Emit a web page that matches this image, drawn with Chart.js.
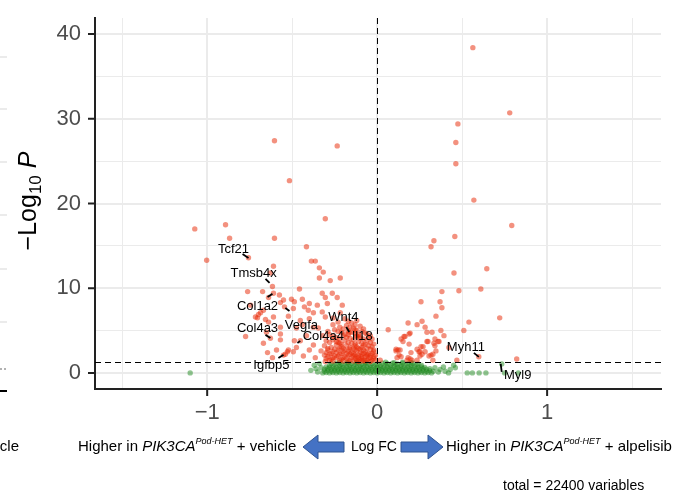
<!DOCTYPE html>
<html>
<head>
<meta charset="utf-8">
<script src="https://cdn.jsdelivr.net/npm/chart.js@4.4.1/dist/chart.umd.min.js"></script>
<style>
  html, body { margin: 0; padding: 0; background: #fff; }
</style>
</head>
<body>
<canvas id="volcano" width="687" height="495"></canvas>
<script>
// log fold change, -log10 p
const sigLeft = [
  [-0.604,27.4],[-0.235,26.8],[-0.516,22.7],[-1.073,17.0],[-0.892,17.5],[-0.868,15.9],[-0.604,15.9],
  [-0.305,18.2],[-1.003,13.3],[-0.757,13.6],[-0.416,14.9],[-0.387,13.2],[-0.364,13.2],[-0.340,12.4],
  [-0.317,11.9],[-0.610,12.6],[-0.628,11.8],[-0.340,11.2],[-0.276,10.9],[-0.217,11.2],[-0.616,10.2],
  [-0.457,9.9],[-0.762,9.6],[-0.674,9.6],[-0.575,9.2],[-0.639,8.9],[-0.610,9.4],[-0.504,8.7],
  [-0.440,8.7],[-0.323,9.4],[-0.264,9.4],[-0.305,8.9],[-0.235,8.9],[-0.551,8.6],[-0.569,8.3],
  [-0.487,8.4],[-0.399,8.2],[-0.352,8.0],[-0.293,8.2],[-0.205,8.0],[-0.745,8.0],[-0.428,7.8],
  [-0.405,7.4],[-0.375,7.1],[-0.323,7.2],[-0.305,6.6],[-0.493,7.6],[-0.669,7.4],[-0.698,6.9],
  [-0.704,6.5],[-0.657,6.3],[-0.639,6.0],[-0.610,6.6],[-0.258,6.5],[-0.217,7.1],[-0.399,6.4],
  [-0.440,5.7],[-0.569,5.4],[-0.651,4.8],[-0.669,3.5],[-0.569,4.6],[-0.375,5.4],[-0.346,5.3],
  [-0.487,3.8],[-0.522,2.7],[-0.540,2.2],[-0.592,2.7],[-0.645,2.4],[-0.616,1.8],[-0.399,2.7],
  [-0.493,2.5],[-0.305,1.35],[-0.774,4.3],[-0.628,4.1],[-0.569,3.9],[-0.545,7.8],[-0.452,3.8],
  [-0.164,4.8],[-0.551,2.1],[-0.716,6.6],[-0.686,7.1],[-0.528,2.5],[-0.475,3.0],[-0.434,2.0],
  [-0.375,3.3],[-0.364,1.8],[-0.416,4.4],[-0.452,6.2],[-0.522,6.7],[-0.475,5.3],[-0.120,4.4],
  [-0.23,6.0],[-0.19,6.4],[-0.15,5.9],[-0.12,6.2],
  [-0.26,5.7],[-0.22,5.4],[-0.18,5.6],[-0.14,5.3],[-0.10,5.5],
  [-0.29,4.9],[-0.25,5.1],[-0.21,4.8],[-0.17,5.0],[-0.13,4.7],[-0.09,4.9],[-0.06,4.6],
  [-0.32,4.4],[-0.28,4.5],[-0.24,4.2],[-0.20,4.4],[-0.16,4.1],[-0.12,4.3],[-0.08,4.0],[-0.05,4.2],
  [-0.30,3.8],[-0.26,3.9],[-0.23,3.6],[-0.19,3.8],[-0.15,3.5],[-0.11,3.7],[-0.07,3.4],[-0.04,3.6],
  [-0.31,3.2],[-0.27,3.0],[-0.24,3.3],[-0.21,3.1],[-0.18,3.2],[-0.14,2.9],[-0.12,3.1],[-0.09,3.0],
  [-0.06,2.9],[-0.03,3.1],[-0.33,2.6],[-0.29,2.7],[-0.26,2.5],[-0.23,2.7],[-0.20,2.5],[-0.17,2.6],
  [-0.15,2.4],[-0.12,2.6],[-0.10,2.4],[-0.07,2.5],[-0.05,2.3],[-0.02,2.5],[-0.31,2.1],[-0.28,2.2],
  [-0.25,2.0],[-0.22,2.2],[-0.19,1.9],[-0.17,2.1],[-0.14,2.0],[-0.11,2.1],[-0.09,1.9],[-0.06,2.0],
  [-0.04,2.1],[-0.02,1.9],[-0.30,1.7],[-0.27,1.6],[-0.24,1.8],[-0.21,1.6],[-0.18,1.7],[-0.16,1.5],
  [-0.13,1.7],[-0.10,1.6],[-0.08,1.5],[-0.05,1.7],[-0.03,1.5],[-0.26,1.4],[-0.20,1.4],[-0.14,1.4],
  [-0.11,1.35],[-0.07,1.4],[-0.04,1.35],[-0.16,3.0],[-0.13,3.4],[-0.10,2.8],[-0.08,3.3],[-0.18,2.3],
  [-0.14,2.3],[-0.11,1.8],[-0.07,1.9],[-0.09,2.2],[-0.20,2.9],[-0.22,3.5],[-0.17,4.5],
  [-0.10,4.3],[-0.13,5.1],
  [-0.17,6.1],[-0.13,5.7],
  [-0.20,5.2],[-0.16,5.4],[-0.12,5.0],[-0.08,5.2],
  [-0.23,4.9],[-0.19,4.6],[-0.15,4.8],[-0.11,4.5],[-0.07,4.7],[-0.04,4.4],
  [-0.26,4.3],[-0.22,4.0],[-0.18,4.2],[-0.14,3.9],[-0.10,4.1],[-0.06,3.8],[-0.03,4.0],
  [-0.28,3.6],[-0.24,3.7],[-0.21,3.4],[-0.17,3.6],[-0.13,3.2],[-0.09,3.5],[-0.05,3.2],[-0.02,3.4],
  [-0.29,2.9],[-0.25,2.8],[-0.22,2.9],[-0.19,2.7],[-0.16,2.8],[-0.13,2.7],[-0.11,2.9],[-0.08,2.7],
  [-0.04,2.8],[-0.02,2.7],[-0.30,2.4],[-0.27,2.3],[-0.24,2.4],[-0.21,2.3],[-0.16,2.2],[-0.13,2.1],
  [-0.08,2.3],[-0.06,2.2],[-0.03,2.3],[-0.01,2.1],[-0.29,1.9],[-0.26,1.8],[-0.23,2.0],[-0.20,1.8],
  [-0.15,1.8],[-0.12,1.9],[-0.09,1.7],[-0.04,1.8],[-0.02,1.7],[-0.28,1.5],[-0.22,1.5],[-0.17,1.4],
  [-0.12,1.5],[-0.09,1.4],[-0.06,1.5],[-0.01,1.5]
];

const sigRight = [
  [0.563,38.4],[0.780,30.7],[0.475,29.4],[0.463,27.2],[0.463,24.7],[0.569,20.4],[0.792,17.4],
  [0.457,16.1],[0.334,15.6],[0.317,14.9],[0.645,12.3],[0.452,11.8],[0.610,9.9],[0.481,9.7],
  [0.381,9.6],[0.258,8.4],[0.370,8.4],[0.381,7.7],[0.346,6.7],[0.721,6.5],[0.264,6.1],
  [0.182,5.9],[0.235,5.7],[0.540,6.0],[0.282,5.4],[0.065,5.1],[0.188,4.6],[0.293,4.8],
  [0.323,4.8],[0.375,5.0],[0.510,5.0],[0.393,4.4],[0.141,4.0],[0.164,4.3],[0.340,4.0],
  [0.358,3.7],[0.299,3.7],[0.152,3.7],[0.188,3.4],[0.270,3.1],[0.340,3.2],[0.422,3.0],
  [0.111,2.8],[0.135,2.7],[0.199,2.4],[0.252,2.5],[0.264,2.2],[0.305,2.0],[0.328,2.2],
  [0.129,2.1],[0.141,1.9],[0.598,1.9],[0.469,1.5],[0.821,1.65],[0.018,1.5],[0.235,1.5],
  [0.182,1.8],[0.205,1.5],[0.246,2.5],[0.282,2.5],[0.346,2.6],[0.317,2.1],[0.252,2.0],
  [0.328,1.5],[0.117,1.8],[0.176,1.5],[0.194,1.65],[0.235,2.8],[0.258,3.1],[0.293,3.7],
  [0.334,3.5],[0.364,3.7],[0.194,4.7],[0.158,4.3],[0.123,2.7],[0.111,2.6]
];

const notSig = [
  [-1.10,0.0],[-0.39,0.3],[-0.37,0.9],[-0.36,0.5],[-0.35,0.1],[-0.34,1.1],[-0.33,0.6],
  [-0.32,0.0],[-0.30,0.05],[-0.28,0.0],[-0.26,0.05],[-0.24,0.0],[-0.22,0.05],[-0.20,0.0],[-0.18,0.05],
  [-0.16,0.0],[-0.14,0.05],[-0.12,0.0],[-0.10,0.05],[-0.08,0.0],[-0.06,0.05],[-0.04,0.0],[-0.02,0.05],
  [0.00,0.0],[0.02,0.05],[0.04,0.0],[0.06,0.05],[0.08,0.0],[0.10,0.05],[0.12,0.0],[0.14,0.05],
  [0.16,0.0],[0.18,0.05],[0.20,0.0],[0.22,0.05],[0.24,0.0],[0.26,0.05],[0.28,0.0],[0.30,0.05],[0.32,0.0],
  [-0.31,0.2],[-0.29,0.25],[-0.27,0.2],[-0.25,0.25],[-0.23,0.2],[-0.21,0.25],[-0.19,0.2],[-0.17,0.25],
  [-0.15,0.2],[-0.13,0.25],[-0.11,0.2],[-0.09,0.25],[-0.07,0.2],[-0.05,0.25],[-0.03,0.2],[-0.01,0.25],
  [0.01,0.2],[0.03,0.25],[0.05,0.2],[0.07,0.25],[0.09,0.2],[0.11,0.25],[0.13,0.2],[0.15,0.25],
  [0.17,0.2],[0.19,0.25],[0.21,0.2],[0.23,0.25],[0.25,0.2],[0.27,0.25],[0.29,0.2],[0.31,0.25],
  [-0.31,0.45],[-0.29,0.5],[-0.27,0.45],[-0.25,0.5],[-0.23,0.45],[-0.21,0.5],[-0.19,0.45],[-0.17,0.5],
  [-0.15,0.45],[-0.13,0.5],[-0.11,0.45],[-0.09,0.5],[-0.07,0.45],[-0.05,0.5],[-0.03,0.45],[-0.01,0.5],
  [0.01,0.45],[0.03,0.5],[0.05,0.45],[0.07,0.5],[0.09,0.45],[0.11,0.5],[0.13,0.45],[0.15,0.5],
  [0.17,0.45],[0.19,0.5],[0.21,0.45],[0.23,0.5],[0.25,0.45],[0.27,0.5],[0.29,0.45],[0.31,0.5],
  [-0.30,0.7],[-0.28,0.65],[-0.26,0.7],[-0.24,0.65],[-0.22,0.7],[-0.20,0.65],[-0.18,0.7],[-0.16,0.65],
  [-0.14,0.7],[-0.12,0.65],[-0.10,0.7],[-0.08,0.65],[-0.06,0.7],[-0.04,0.65],[-0.02,0.7],[0.00,0.65],
  [0.02,0.7],[0.04,0.65],[0.06,0.7],[0.08,0.65],[0.10,0.7],[0.12,0.65],[0.14,0.7],[0.16,0.65],
  [0.18,0.7],[0.20,0.65],[0.22,0.7],[0.24,0.65],[0.26,0.7],[0.28,0.65],
  [-0.28,0.9],[-0.25,0.95],[-0.22,0.9],[-0.19,0.95],[-0.16,0.9],[-0.13,0.95],[-0.10,0.9],[-0.07,0.95],
  [-0.04,0.9],[-0.01,0.95],[0.02,0.9],[0.05,0.95],[0.08,0.9],[0.11,0.95],[0.14,0.9],[0.17,0.95],
  [0.20,0.9],[0.23,0.95],[0.26,0.9],
  [-0.27,1.1],[-0.24,1.15],[-0.21,1.05],[-0.18,1.15],[-0.15,1.1],[-0.12,1.15],[-0.09,1.05],[-0.06,1.15],
  [-0.03,1.1],[0.00,1.05],[0.03,1.15],[0.06,1.1],[0.09,1.15],[0.12,1.05],[0.15,1.15],[0.18,1.1],
  [0.21,1.15],[0.24,1.05],
  [-0.22,1.25],[-0.17,1.2],[-0.12,1.25],[-0.07,1.2],[0.05,1.25],[0.10,1.2],[0.15,1.25],[0.20,1.2],
  [0.33,0.2],[0.34,0.6],[0.36,0.1],[0.37,0.4],[0.39,0.7],[0.40,0.2],[0.42,0.0],[0.43,0.4],
  [0.45,0.9],[0.46,0.6],[0.53,0.0],[0.56,0.0],[0.60,0.0],[0.64,0.0],[0.733,1.06],[0.75,0.0],[0.83,0.0]
];

// gene, label centre, leader segment [x1, y1, x2, y2]
const geneLabels = [
  ['Tcf21',  [-0.845, 14.6], [-0.792, 14.05, -0.757, 13.58]],
  ['Tmsb4x', [-0.727, 11.8], [-0.657, 11.10, -0.633, 10.63]],
  ['Col1a2', [-0.704, 7.9],  [-0.645, 8.97, -0.616, 9.33]],
  ['Vegfa',  [-0.446, 5.55], [-0.540, 7.67, -0.516, 7.32]],
  ['Col4a3', [-0.704, 5.2],  [-0.657, 4.49, -0.628, 4.13]],
  ['Col4a4', [-0.317, 4.25], [-0.469, 3.54, -0.452, 3.78]],
  ['Wnt4',   [-0.199, 6.5],  [-0.182, 5.43, -0.164, 4.84]],
  ['Il18',   [-0.088, 4.25], null],
  ['Igfbp5', [-0.622, 0.83], [-0.581, 1.77, -0.551, 2.13]],
  ['Myh11',  [0.522, 2.95],  [0.569, 2.36, 0.598, 1.89]],
  ['Myl9',   [0.827, -0.35], [0.733, 0.12, 0.727, 1.06]]
];

const pCutoff = 1.3;
const fcCutoff = 0;
const xTicks = [-1, 0, 1];
const yTicks = [0, 10, 20, 30, 40];

const FONT = '"Liberation Sans", Arial, Helvetica, sans-serif';
const toXY = arr => arr.map(p => ({ x: p[0], y: p[1] }));

function drawParts(ctx, parts, x, y) {
  // parts: [text, size, style, dy]
  parts.forEach(p => {
    ctx.font = (p[2] || '') + ' ' + p[1] + 'px ' + FONT;
    ctx.fillText(p[0], x, y + (p[3] || 0));
    x += ctx.measureText(p[0]).width;
  });
  return x;
}

function partsWidth(ctx, parts) {
  let w = 0;
  parts.forEach(p => {
    ctx.font = (p[2] || '') + ' ' + p[1] + 'px ' + FONT;
    w += ctx.measureText(p[0]).width;
  });
  return w;
}

function blockArrow(ctx, tail, tip, cy) {
  const dir = tip > tail ? 1 : -1;
  const headBase = tip - dir * 15;
  ctx.save();
  ctx.beginPath();
  ctx.moveTo(tail, cy - 5);
  ctx.lineTo(headBase, cy - 5);
  ctx.lineTo(headBase, cy - 12);
  ctx.lineTo(tip, cy);
  ctx.lineTo(headBase, cy + 12);
  ctx.lineTo(headBase, cy + 5);
  ctx.lineTo(tail, cy + 5);
  ctx.closePath();
  ctx.fillStyle = '#4472C4';
  ctx.fill();
  ctx.strokeStyle = '#2F528F';
  ctx.lineWidth = 1;
  ctx.stroke();
  ctx.restore();
}

const volcanoExtras = {
  id: 'volcanoExtras',
  afterDatasetsDraw(chart) {
    const ctx = chart.ctx;
    const xs = chart.scales.x, ys = chart.scales.y;
    const area = chart.chartArea;
    ctx.save();
    // cutoff lines
    ctx.strokeStyle = '#000';
    ctx.lineWidth = 1;
    ctx.setLineDash([6, 4]);
    ctx.beginPath();
    const py = Math.round(ys.getPixelForValue(pCutoff)) + 0.5;
    ctx.moveTo(area.left, py);
    ctx.lineTo(area.right, py);
    const px = Math.round(xs.getPixelForValue(fcCutoff)) + 0.5;
    ctx.moveTo(px, area.top);
    ctx.lineTo(px, area.bottom);
    ctx.stroke();
    ctx.setLineDash([]);

    // gene labels
    ctx.lineWidth = 1.8;
    geneLabels.forEach(g => {
      const seg = g[2];
      if (seg) {
        ctx.beginPath();
        ctx.moveTo(xs.getPixelForValue(seg[0]), ys.getPixelForValue(seg[1]));
        ctx.lineTo(xs.getPixelForValue(seg[2]), ys.getPixelForValue(seg[3]));
        ctx.stroke();
      }
    });
    ctx.fillStyle = '#000';
    ctx.font = '13px ' + FONT;
    ctx.textAlign = 'center';
    ctx.textBaseline = 'middle';
    geneLabels.forEach(g => {
      ctx.fillText(g[0], xs.getPixelForValue(g[1][0]), ys.getPixelForValue(g[1][1]));
    });
    ctx.restore();
  },
  afterDraw(chart) {
    const ctx = chart.ctx;
    const xs = chart.scales.x, ys = chart.scales.y;
    const area = chart.chartArea;
    ctx.save();

    // axis tick marks
    ctx.strokeStyle = '#222';
    ctx.lineWidth = 2;
    ctx.beginPath();
    yTicks.forEach(v => {
      const y = ys.getPixelForValue(v);
      ctx.moveTo(area.left - 7, y);
      ctx.lineTo(area.left, y);
    });
    xTicks.forEach(v => {
      const x = xs.getPixelForValue(v);
      ctx.moveTo(x, area.bottom);
      ctx.lineTo(x, area.bottom + 7);
    });
    ctx.stroke();

    // y title
    ctx.fillStyle = '#000';
    ctx.textBaseline = 'middle';
    ctx.textAlign = 'left';
    const title = [['\u2212Log', 25], ['10', 17, '', 7], [' ', 25], ['P', 25, 'italic']];
    ctx.translate(29, 201);
    ctx.rotate(-Math.PI / 2);
    drawParts(ctx, title, -partsWidth(ctx, title) / 2, 0);
    ctx.setTransform(1, 0, 0, 1, 0, 0);

    // bits of the neighbouring panel on the left edge
    ctx.strokeStyle = '#EBEBEB';
    ctx.lineWidth = 2;
    ctx.beginPath();
    [57, 109, 162, 215, 269, 322].forEach(y => { ctx.moveTo(0, y); ctx.lineTo(7, y); });
    ctx.stroke();
    ctx.strokeStyle = '#999';
    ctx.lineWidth = 1.5;
    ctx.setLineDash([2, 2]);
    ctx.beginPath();
    ctx.moveTo(0, 369); ctx.lineTo(8, 369);
    ctx.stroke();
    ctx.setLineDash([]);
    ctx.strokeStyle = '#000';
    ctx.lineWidth = 2;
    ctx.beginPath();
    ctx.moveTo(0, 391); ctx.lineTo(7, 391);
    ctx.stroke();

    // caption under the x axis
    const cy = 447;
    ctx.fillStyle = '#000';
    ctx.textBaseline = 'middle';
    ctx.textAlign = 'right';
    ctx.font = '15px ' + FONT;
    ctx.fillText('vehicle', 19, cy);
    ctx.textAlign = 'left';
    drawParts(ctx, [['Higher in ', 15], ['PIK3CA', 15, 'italic'], ['Pod-HET', 9, 'italic', -6], [' + vehicle', 15]], 78, cy);
    blockArrow(ctx, 344, 303, cy);
    ctx.fillStyle = '#000';
    ctx.textAlign = 'center';
    ctx.font = '14px ' + FONT;
    ctx.fillText('Log FC', 374, cy);
    blockArrow(ctx, 401, 443, cy);
    ctx.fillStyle = '#000';
    ctx.textAlign = 'left';
    drawParts(ctx, [['Higher in ', 15], ['PIK3CA', 15, 'italic'], ['Pod-HET', 9, 'italic', -6], [' + alpelisib', 15]], 446, cy);
    ctx.font = '14px ' + FONT;
    ctx.fillText('total = 22400 variables', 503, 486);
    ctx.restore();
  }
};

const gridWidth = step => ctx => (ctx.tick && Math.abs(ctx.tick.value / step - Math.round(ctx.tick.value / step)) < 1e-6) ? 2 : 1;

new Chart(document.getElementById('volcano'), {
  type: 'scatter',
  data: {
    datasets: [
      {
        label: 'sig',
        data: toXY(sigLeft.concat(sigRight)),
        backgroundColor: 'rgba(232,45,10,0.52)',
        borderWidth: 0,
        pointRadius: 2.7,
        order: 0
      },
      {
        label: 'NS',
        data: toXY(notSig),
        backgroundColor: 'rgba(34,139,34,0.5)',
        borderWidth: 0,
        pointRadius: 2.7,
        order: 1
      }
    ]
  },
  options: {
    responsive: false,
    animation: false,
    devicePixelRatio: 1,
    layout: { padding: { left: 0, top: 18, right: 26, bottom: 66 } },
    plugins: { legend: { display: false }, tooltip: { enabled: false } },
    scales: {
      x: {
        type: 'linear',
        min: -1.66,
        max: 1.67,
        afterFit: s => { s.height = 40; s.paddingLeft = 0; s.paddingRight = 0; },
        border: { display: true, color: '#222', width: 2 },
        grid: { color: '#EBEBEB', lineWidth: gridWidth(1), drawTicks: false },
        ticks: {
          stepSize: 0.5,
          includeBounds: false,
          autoSkip: false,
          maxRotation: 0,
          padding: 11,
          color: '#4D4D4D',
          font: { family: FONT, size: 22 },
          callback: v => xTicks.includes(v) ? (v < 0 ? '\u2212' + Math.abs(v) : String(v)) : ''
        }
      },
      y: {
        type: 'linear',
        min: -1.9,
        max: 41.9,
        afterFit: s => { s.width = 95; s.paddingTop = 0; s.paddingBottom = 0; },
        border: { display: true, color: '#222', width: 2 },
        grid: { color: '#EBEBEB', lineWidth: gridWidth(10), drawTicks: false },
        ticks: {
          stepSize: 5,
          includeBounds: false,
          autoSkip: false,
          padding: 14,
          color: '#4D4D4D',
          font: { family: FONT, size: 22 },
          callback: v => yTicks.includes(v) ? String(v) : ''
        }
      }
    }
  },
  plugins: [volcanoExtras]
});
</script>
</body>
</html>
